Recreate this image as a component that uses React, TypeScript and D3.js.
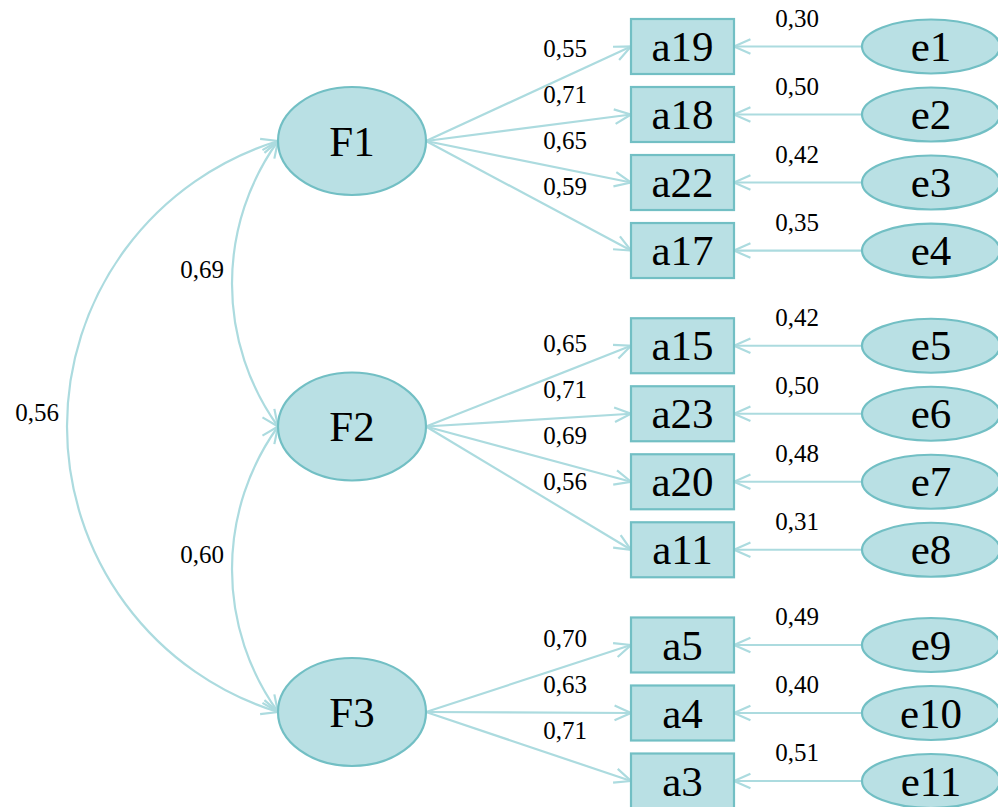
import * as d3 from 'd3';

// latent factors, observed items and error terms (values as printed, decimal comma)
const factors = ['F1', 'F2', 'F3'];
const items = ['a19', 'a18', 'a22', 'a17', 'a15', 'a23', 'a20', 'a11', 'a5', 'a4', 'a3'];
const itemFactor = [0, 0, 0, 0, 1, 1, 1, 1, 2, 2, 2];
const loadings = ['0,55', '0,71', '0,65', '0,59', '0,65', '0,71', '0,69', '0,56', '0,70', '0,63', '0,71'];
const errors = ['e1', 'e2', 'e3', 'e4', 'e5', 'e6', 'e7', 'e8', 'e9', 'e10', 'e11'];
const errorValues = ['0,30', '0,50', '0,42', '0,35', '0,42', '0,50', '0,48', '0,31', '0,49', '0,40', '0,51'];
const covFrom = [0, 1, 0];
const covTo = [1, 2, 2];
const covValues = ['0,69', '0,60', '0,56'];

const W = 998;
const H = 807;
const FILL = '#b9e0e4';
const STROKE = '#72bfc4';
const LINE = '#acdbdf';
const FONT = '"Liberation Serif", "Times New Roman", serif';

// layout
const F = { cx: 352, rx: 74, ry: 54 };
const BOX = { x: 631, w: 103, h: 55 };
const E = { cx: 931, rx: 69, ry: 27 };
const GROUP_GAP = 0.4;

const fy = d3.scaleLinear().domain([0, factors.length - 1]).range([141, 712]);
const lastSlot = items.length - 1 + (factors.length - 1) * GROUP_GAP;
const iy = d3.scaleLinear().domain([0, lastSlot]).range([46.5, 781]);
const slot = (i: number) => i + itemFactor[i] * GROUP_GAP;

function arrowHead(tx: number, ty: number, dx: number, dy: number) {
  const len = Math.hypot(dx, dy);
  const ux = -dx / len;
  const uy = -dy / len;
  const a = (24 * Math.PI) / 180;
  const L = 18;
  const p = d3.path();
  const rot = (s: number) => [
    tx + L * (ux * Math.cos(s * a) - uy * Math.sin(s * a)),
    ty + L * (ux * Math.sin(s * a) + uy * Math.cos(s * a)),
  ];
  const [x1, y1] = rot(1);
  const [x2, y2] = rot(-1);
  p.moveTo(x1, y1);
  p.lineTo(tx, ty);
  p.lineTo(x2, y2);
  return p.toString();
}

function Arrow({ x0, y0, x1, y1 }: { x0: number; y0: number; x1: number; y1: number }) {
  return (
    <g>
      <line x1={x0} y1={y0} x2={x1} y2={y1} stroke={LINE} strokeWidth={2.2} />
      <path d={arrowHead(x1, y1, x1 - x0, y1 - y0)} fill="none" stroke={LINE} strokeWidth={2.2} />
    </g>
  );
}

function Covariance({ from, to, value }: { from: number; to: number; value: string }) {
  const x0 = F.cx - F.rx;
  const y0 = fy(from);
  const y1 = fy(to);
  const bulge = to - from === 1 ? 46 : 211;
  const h = (y1 - y0) / 2;
  const r = (h * h + bulge * bulge) / (2 * bulge);
  const cx = x0 - bulge + r;
  const cy = (y0 + y1) / 2;
  const d = `M${x0},${y0} A${r},${r} 0 0 0 ${x0},${y1}`;
  const head = (py: number) => {
    const vx = x0 - cx;
    const vy = py - cy;
    let dx = -vy;
    let dy = vx;
    if (dx < 0) { dx = -dx; dy = -dy; }
    return arrowHead(x0, py, dx, dy);
  };
  return (
    <g>
      <path d={d} fill="none" stroke={LINE} strokeWidth={2.2} />
      <path d={head(y0)} fill="none" stroke={LINE} strokeWidth={2.2} />
      <path d={head(y1)} fill="none" stroke={LINE} strokeWidth={2.2} />
      <text x={x0 - bulge - 8} y={cy - 6} textAnchor="end" fontSize={25} fontFamily={FONT}>
        {value}
      </text>
    </g>
  );
}

export default function App() {
  const labelX = 565;
  return (
    <svg
      width={W}
      height={H}
      viewBox={`0 0 ${W} ${H}`}
      style={{ position: 'absolute', left: 0, top: 0, background: '#fff' }}
    >
      {covValues.map((v, k) => (
        <Covariance key={k} from={covFrom[k]} to={covTo[k]} value={v} />
      ))}

      {items.map((it, i) => {
        const f = itemFactor[i];
        const x0 = F.cx + F.rx;
        const y0 = fy(f);
        const y1 = iy(slot(i));
        const t = (labelX - x0) / (BOX.x - x0);
        const ly = y0 + t * (y1 - y0) - 20;
        return (
          <g key={it}>
            <Arrow x0={x0} y0={y0} x1={BOX.x} y1={y1} />
            <text x={labelX} y={ly} textAnchor="middle" fontSize={25} fontFamily={FONT}>
              {loadings[i]}
            </text>
          </g>
        );
      })}

      {errors.map((e, i) => {
        const y = iy(slot(i));
        return (
          <g key={e}>
            <Arrow x0={E.cx - E.rx} y0={y} x1={BOX.x + BOX.w} y1={y} />
            <text x={797} y={y - 20} textAnchor="middle" fontSize={25} fontFamily={FONT}>
              {errorValues[i]}
            </text>
            <ellipse cx={E.cx} cy={y} rx={E.rx} ry={E.ry} fill={FILL} stroke={STROKE} strokeWidth={2.2} />
            <text x={E.cx} y={y} dy="0.34em" textAnchor="middle" fontSize={43} fontFamily={FONT}>
              {e}
            </text>
          </g>
        );
      })}

      {items.map((it, i) => {
        const y = iy(slot(i));
        return (
          <g key={it}>
            <rect
              x={BOX.x}
              y={y - BOX.h / 2}
              width={BOX.w}
              height={BOX.h}
              fill={FILL}
              stroke={STROKE}
              strokeWidth={2.2}
            />
            <text x={BOX.x + BOX.w / 2} y={y} dy="0.34em" textAnchor="middle" fontSize={43} fontFamily={FONT}>
              {it}
            </text>
          </g>
        );
      })}

      {factors.map((f, k) => (
        <g key={f}>
          <ellipse cx={F.cx} cy={fy(k)} rx={F.rx} ry={F.ry} fill={FILL} stroke={STROKE} strokeWidth={2.2} />
          <text x={F.cx} y={fy(k)} dy="0.34em" textAnchor="middle" fontSize={43} fontFamily={FONT}>
            {f}
          </text>
        </g>
      ))}
    </svg>
  );
}
